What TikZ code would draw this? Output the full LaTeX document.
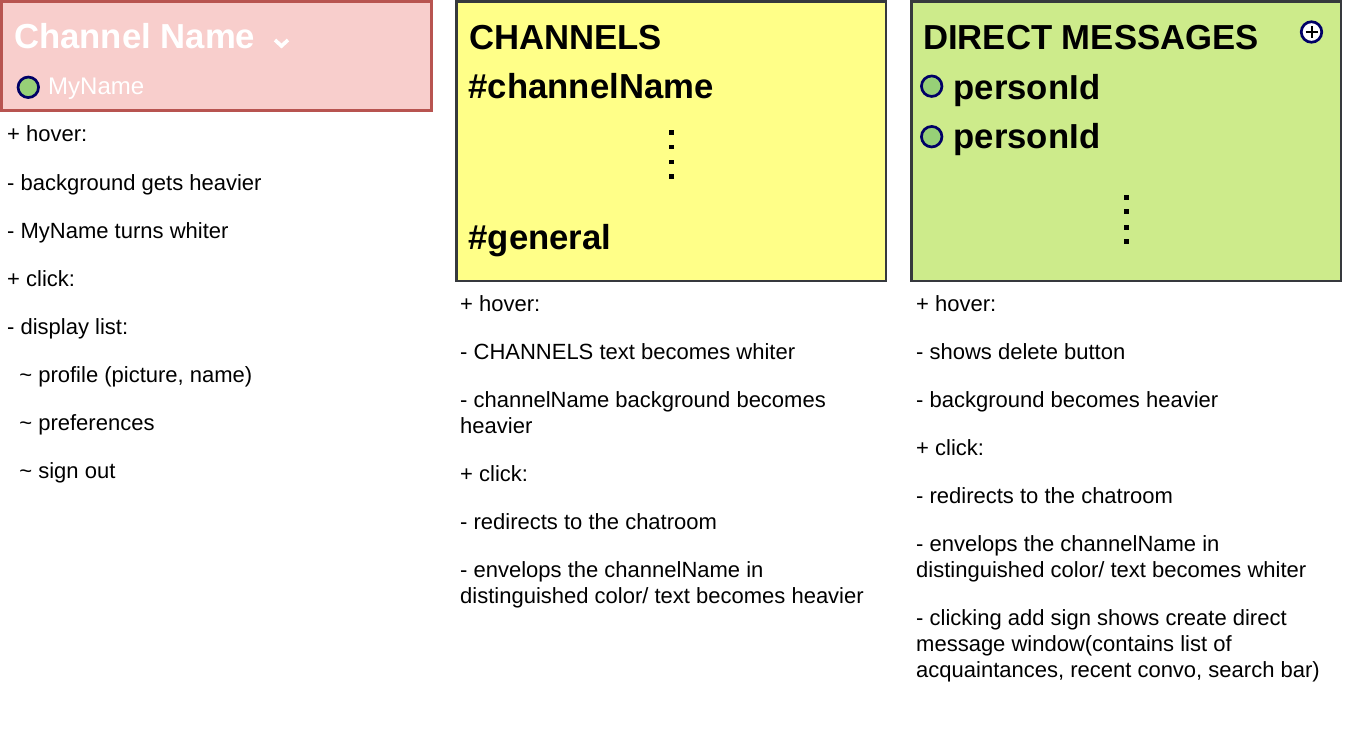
\documentclass[tikz,border=0pt]{standalone}
\usepackage{fontspec}
\setmainfont{Liberation Sans}
\usepackage{tikz}

\definecolor{redfill}{HTML}{F8CECC}
\definecolor{redline}{HTML}{B85450}
\definecolor{yellowfill}{HTML}{FFFF88}
\definecolor{greenfill}{HTML}{CDEB8B}
\definecolor{darkline}{HTML}{36393D}
\definecolor{dotfill}{HTML}{97D077}
\definecolor{dotline}{HTML}{000066}

\begin{document}
\begin{tikzpicture}[x=1pt, y=-1pt,
    note/.style={anchor=base west, inner sep=0pt, font=\fontsize{22}{26}\selectfont},
    title/.style={anchor=base west, inner sep=0pt, font=\fontsize{34.7}{40}\selectfont\bfseries},
    status/.style={circle, draw=dotline, fill=dotfill, line width=2.7pt, minimum size=20.5pt, inner sep=0pt},
    vdot/.style={fill=black, inner sep=0pt, minimum size=4.8pt}]
    \useasboundingbox (0,0) rectangle (1362,733);
    % Boxes
    \draw[redline, fill=redfill, line width=3pt] (1.5,1.5) rectangle (431,110.5);
    \draw[darkline, fill=yellowfill, line width=2.6pt] (456.5,1.5) rectangle (886,281);
    \draw[darkline, fill=greenfill, line width=2.6pt] (911.5,1.5) rectangle (1341,281);
    % Header box
    \node[title, text=white] (chname) at (14,48.3) {Channel Name};
    \draw[white, line width=3.6pt] (275,40) -- (281.5,46) -- (288,40);
    \node[status] (me) at (28.3,87.3) {};
    \node[anchor=base west, inner sep=0pt, text=white, font=\fontsize{24}{28}\selectfont] (myname) at (48,94.3) {MyName};
    % Channels box
    \node[title] (channels) at (469,49.3) {CHANNELS};
    \node[title] (chan1) at (468.5,98.7) {\#channelName};
    \node[vdot] (cd1) at (671.3,132.5) {};
    \node[vdot] (cd2) at (671.3,147) {};
    \node[vdot] (cd3) at (671.3,162) {};
    \node[vdot] (cd4) at (671.3,176.5) {};
    \node[title] (general) at (468.5,249.3) {\#general};
    % Direct messages box
    \node[title] (dms) at (923,49.3) {DIRECT MESSAGES};
    \node[circle, draw=dotline, fill=white, line width=2.7pt, minimum size=20.5pt, inner sep=0pt] (add) at (1311.5,32) {};
    \draw[line width=2pt] (add.center) ++(-6,0) -- ++(12,0);
    \draw[line width=2pt] (add.center) ++(0,-6) -- ++(0,12);
    \node[status] (p1) at (931.7,86.2) {};
    \node[title] (person1) at (953.5,99.3) {personId};
    \node[status] (p2) at (931.7,136.7) {};
    \node[title] (person2) at (953.5,149) {personId};
    \node[vdot] (dd1) at (1126.2,197.2) {};
    \node[vdot] (dd2) at (1126.2,211.3) {};
    \node[vdot] (dd3) at (1126.2,227.2) {};
    \node[vdot] (dd4) at (1126.2,241.2) {};
    % Notes under the header
    \node[note] (a1) at (7,142) {+ hover:};
    \node[note] (a2) at (7,190) {- background gets heavier};
    \node[note] (a3) at (7,238) {- MyName turns whiter};
    \node[note] (a4) at (7,286) {+ click:};
    \node[note] (a5) at (7,334) {- display list:};
    \node[note] (a6) at (19.2,382) {\textasciitilde\ profile (picture, name)};
    \node[note] (a7) at (19.2,430) {\textasciitilde\ preferences};
    \node[note] (a8) at (19.2,478) {\textasciitilde\ sign out};
    % Notes under channels
    \node[note] (b1) at (460,311) {+ hover:};
    \node[note] (b2) at (460,359) {- CHANNELS text becomes whiter};
    \node[note] (b3) at (460,407) {- channelName background becomes};
    \node[note] (b3b) at (460,433) {heavier};
    \node[note] (b4) at (460,481) {+ click:};
    \node[note] (b5) at (460,529) {- redirects to the chatroom};
    \node[note] (b6) at (460,577) {- envelops the channelName in};
    \node[note] (b6b) at (460,603) {distinguished color/ text becomes heavier};
    % Notes under direct messages
    \node[note] (c1) at (916,311) {+ hover:};
    \node[note] (c2) at (916,359) {- shows delete button};
    \node[note] (c3) at (916,407) {- background becomes heavier};
    \node[note] (c4) at (916,455) {+ click:};
    \node[note] (c5) at (916,503) {- redirects to the chatroom};
    \node[note] (c6) at (916,551) {- envelops the channelName in};
    \node[note] (c6b) at (916,577) {distinguished color/ text becomes whiter};
    \node[note] (c7) at (916,625) {- clicking add sign shows create direct};
    \node[note] (c7b) at (916,651) {message window(contains list of};
    \node[note] (c7c) at (916,677) {acquaintances, recent convo, search bar)};
\end{tikzpicture}
\end{document}
